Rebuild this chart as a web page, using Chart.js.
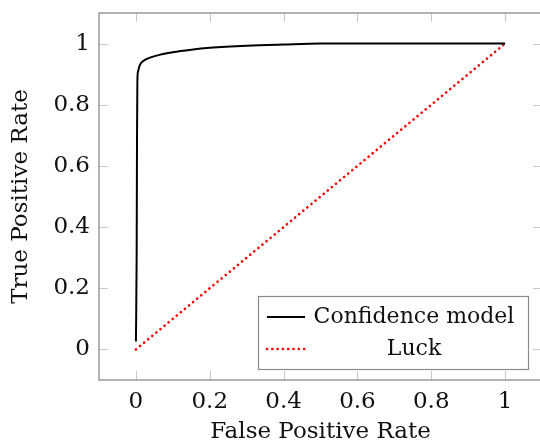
<!DOCTYPE html>
<html>
<head>
<meta charset="utf-8">
<script src="https://cdn.jsdelivr.net/npm/chart.js@4"></script>
<style>
  body { margin: 0; background: #fff; overflow: hidden; }
  #wrap { width: 545px; height: 444px; }
</style>
</head>
<body>
<div id="wrap"><canvas id="roc" width="545" height="444"></canvas></div>
<script>
// ROC curve of the confidence model
const fpr = [0, 0.002, 0.003, 0.004, 0.006, 0.01, 0.02, 0.04, 0.07, 0.1, 0.15, 0.2, 0.3, 0.4, 0.5, 0.7, 1];
const tpr = [0.026, 0.3, 0.7, 0.88, 0.91, 0.928, 0.943, 0.955, 0.965, 0.972, 0.98, 0.986, 0.993, 0.997, 1, 1, 1];
// chance line
const luckX = [0, 1];
const luckY = [0, 1];

const xTicks = [0, 0.2, 0.4, 0.6, 0.8, 1];
const yTicks = [0, 0.2, 0.4, 0.6, 0.8, 1];
const legendLabels = ["Confidence model", "Luck"];

const FONT = "'DejaVu Serif', serif";
const INK = "#111";

// pgfplots style frame with inward ticks
const framePlugin = {
  id: "frame",
  beforeDatasetsDraw(chart) {
    const { ctx, chartArea: a, scales } = chart;
    ctx.save();
    ctx.strokeStyle = "#c8c8c8";
    ctx.lineWidth = 1;
    ctx.beginPath();
    xTicks.forEach(v => {
      const px = Math.round(scales.x.getPixelForValue(v)) + 0.5;
      ctx.moveTo(px, a.top); ctx.lineTo(px, a.top + 9);
      ctx.moveTo(px, a.bottom); ctx.lineTo(px, a.bottom - 9);
    });
    yTicks.forEach(v => {
      const py = Math.round(scales.y.getPixelForValue(v)) + 0.5;
      ctx.moveTo(a.left, py); ctx.lineTo(a.left + 9, py);
      ctx.moveTo(a.right, py); ctx.lineTo(a.right - 9, py);
    });
    ctx.stroke();
    ctx.restore();
  },
  afterDraw(chart) {
    const { ctx, chartArea: a } = chart;
    ctx.save();
    ctx.strokeStyle = "#8a8a8a";
    ctx.lineWidth = 1.3;
    ctx.strokeRect(a.left, a.top, a.right - a.left, a.bottom - a.top);

    // legend box, bottom right inside the plot
    const bx = 258, by = 296, bw = 270, bh = 73;
    ctx.fillStyle = "#fff";
    ctx.fillRect(bx, by, bw, bh);
    ctx.strokeStyle = "#8a8a8a";
    ctx.lineWidth = 1.2;
    ctx.strokeRect(bx + 0.5, by + 0.5, bw, bh);

    const rows = [by + 21, by + 53];
    const ds = chart.data.datasets;
    rows.forEach((y, i) => {
      ctx.beginPath();
      ctx.strokeStyle = ds[i].borderColor;
      ctx.lineWidth = ds[i].borderWidth;
      ctx.lineCap = ds[i].borderCapStyle || "butt";
      ctx.setLineDash(ds[i].borderDash || []);
      ctx.moveTo(bx + 9, y);
      ctx.lineTo(bx + 47, y);
      ctx.stroke();
      ctx.setLineDash([]);
      ctx.fillStyle = INK;
      ctx.font = "22px " + FONT;
      ctx.textAlign = "center";
      ctx.textBaseline = "middle";
      ctx.fillText(legendLabels[i], bx + 156, y);
    });
    ctx.restore();
  }
};

const setTicks = vals => scale => { scale.ticks = vals.map(v => ({ value: v })); };

new Chart(document.getElementById("roc"), {
  type: "scatter",
  data: {
    datasets: [
      {
        label: legendLabels[0],
        data: fpr.map((x, i) => ({ x, y: tpr[i] })),
        showLine: true,
        borderColor: "#000",
        borderWidth: 2,
        pointRadius: 0,
        cubicInterpolationMode: "monotone"
      },
      {
        label: legendLabels[1],
        data: luckX.map((x, i) => ({ x, y: luckY[i] })),
        showLine: true,
        borderColor: "#ff0000",
        borderWidth: 2.6,
        borderDash: [0.1, 5.2],
        borderCapStyle: "round",
        pointRadius: 0
      }
    ]
  },
  options: {
    responsive: false,
    animation: false,
    layout: { padding: { top: 13, right: 3, left: 0, bottom: 0 } },
    plugins: { legend: { display: false }, tooltip: { enabled: false } },
    scales: {
      x: {
        type: "linear",
        min: -0.1,
        max: 1.1,
        afterBuildTicks: setTicks(xTicks),
        afterFit: s => { s.height = 64; s.paddingLeft = 0; s.paddingRight = 0; },
        grid: { display: false, drawTicks: false },
        border: { display: false },
        ticks: {
          padding: 8,
          color: INK,
          font: { family: FONT, size: 23 },
          callback: v => String(v)
        },
        title: {
          display: true,
          text: "False Positive Rate",
          color: INK,
          font: { family: FONT, size: 23, lineHeight: 1 },
          padding: 0
        }
      },
      y: {
        type: "linear",
        min: -0.1,
        max: 1.1,
        afterBuildTicks: setTicks(yTicks),
        afterFit: s => { s.width = 99; s.paddingTop = 0; s.paddingBottom = 0; },
        grid: { display: false, drawTicks: false },
        border: { display: false },
        ticks: {
          padding: 9,
          color: INK,
          font: { family: FONT, size: 23 },
          callback: v => String(v)
        },
        title: {
          display: true,
          text: "True Positive Rate",
          color: INK,
          font: { family: FONT, size: 23, lineHeight: 1 },
          padding: { top: 10 }
        }
      }
    }
  },
  plugins: [framePlugin]
});
</script>
</body>
</html>
